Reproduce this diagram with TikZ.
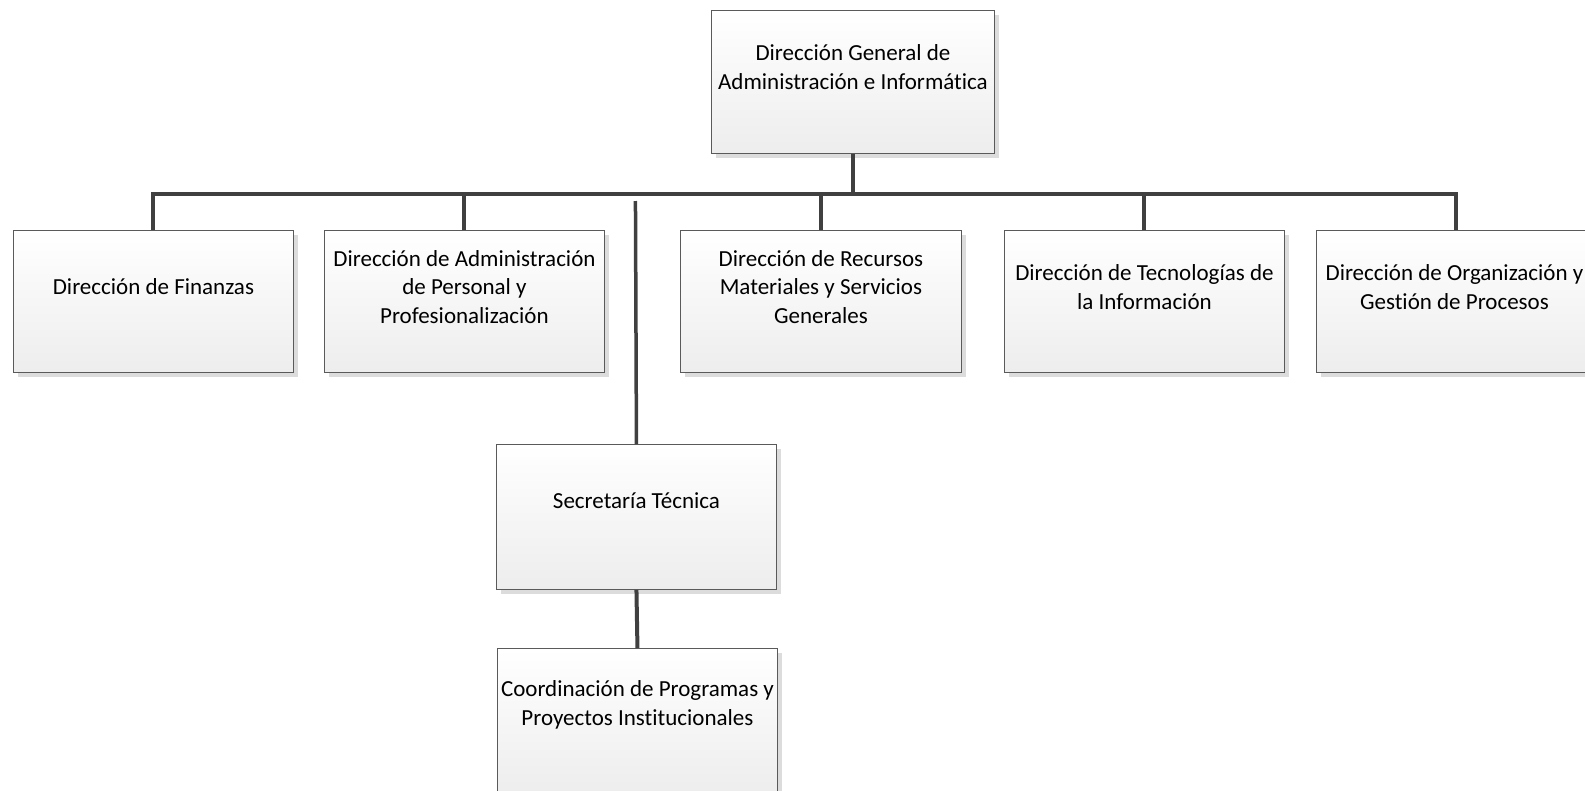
\documentclass[tikz,border=0pt]{standalone}
\usepackage{fontspec}
\setmainfont[Ligatures=NoCommon]{Carlito}
\usetikzlibrary{shadows,calc}
\definecolor{boxline}{HTML}{5A5A5A}
\definecolor{conncol}{HTML}{404040}
\definecolor{shadowcol}{HTML}{DCDCDC}
\definecolor{boxbottom}{HTML}{EDEDED}
\tikzset{
  orgbox/.style={draw=boxline, line width=0.9pt, top color=white, bottom color=boxbottom,
    minimum width=280pt, minimum height=142pt, anchor=north west, inner sep=0pt,
    drop shadow={shadow xshift=4.5pt, shadow yshift=-5pt, fill=shadowcol, opacity=1}},
  lbl/.style={font=\fontsize{23}{28.3}\selectfont, align=center, inner sep=0pt, text=black},
  conn/.style={draw=conncol, line width=4pt},
}
\begin{document}
\begin{tikzpicture}[x=1pt,y=-1pt]
\useasboundingbox (0,0) rectangle (1585,790);
% boxes
\node[orgbox, minimum width=283pt, minimum height=143pt] (dg) at (711,10) {};
\node[orgbox] (fin) at (13,230) {};
\node[orgbox] (adm) at (324,230) {};
\node[orgbox, minimum width=281pt] (rec) at (680,230) {};
\node[orgbox] (tec) at (1004,230) {};
\node[orgbox] (org) at (1316,230) {};
\node[orgbox, minimum height=145pt] (sec) at (496,444) {};
\node[orgbox, minimum height=145pt] (coo) at (497,648) {};
% texts
\node[lbl] (dgT) at ($(dg.north)+(0,57)$) {Dirección General de\\Administración e Informática};
\node[lbl] (finT) at ($(fin.north)+(0,57)$) {Dirección de Finanzas};
\node[lbl] (admT) at ($(adm.north)+(0,57)$) {Dirección de Administración\\de Personal y\\Profesionalización};
\node[lbl] (recT) at ($(rec.north)+(0,57)$) {Dirección de Recursos\\Materiales y Servicios\\Generales};
\node[lbl] (tecT) at ($(tec.north)+(0,57)$) {Dirección de Tecnologías de\\la Información};
\node[lbl] (orgT) at ($(org.north)+(-2,57)$) {Dirección de Organización y\\Gestión de Procesos};
\node[lbl] (secT) at ($(sec.north)+(0,57)$) {Secretaría Técnica};
\node[lbl] (cooT) at ($(coo.north)+(0,57)$) {Coordinación de Programas y\\Proyectos Institucionales};
% connectors
\coordinate (bus) at ($(dg.south)+(0,40)$);
\draw[conn] (dg.south) -- (bus);
\foreach \n in {fin,adm,rec,tec,org} \draw[conn] (\n.north) |- (bus);
\coordinate (stub) at ($(sec.north)+(-1,-243)$);
\draw[conn, line width=3.5pt] (stub) -- (sec.north);
\draw[conn] (sec.south) -- (coo.north);
\end{tikzpicture}
\end{document}
